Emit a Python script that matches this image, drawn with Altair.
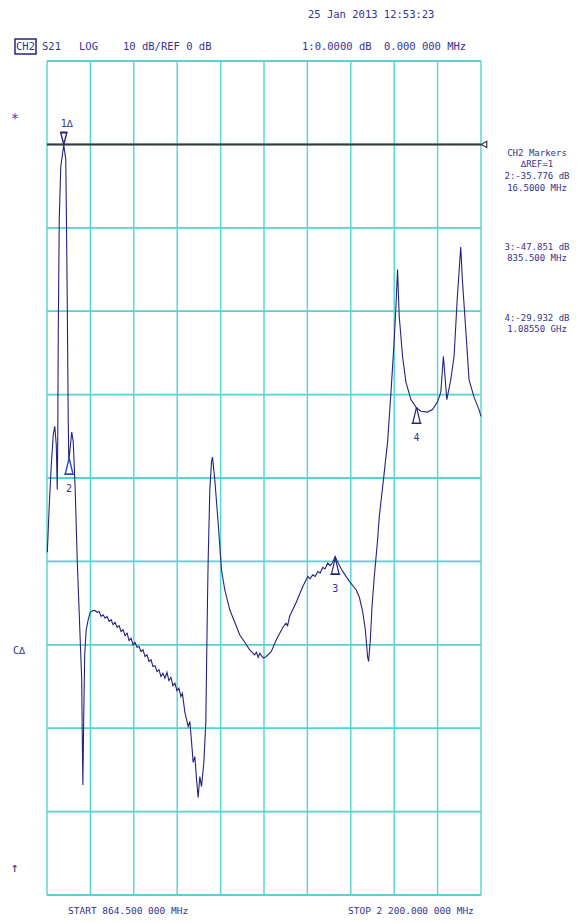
import altair as alt
import pandas as pd

# ---- trace: frequency in MHz, S21 in dB ----
freq_mhz = [
    865.4, 871.6, 877.7, 883.8, 888.4, 893.0, 896.1, 897.6, 899.2, 902.2,
    906.8, 909.9, 916.1, 922.2, 923.7, 926.8, 929.8, 931.7, 933.5, 940.6,
    945.2, 951.3, 957.5, 966.7, 971.3, 972.8, 974.9, 977.4, 980.5, 985.1,
    991.2, 997.3, 1006.5, 1012.7, 1018.8, 1025.0, 1031.1, 1037.2, 1043.4, 1049.5,
    1055.6, 1061.8, 1067.9, 1074.0, 1080.2, 1086.3, 1092.4, 1098.6, 1104.7, 1110.9,
    1117.0, 1123.1, 1129.3, 1135.4, 1141.5, 1147.7, 1153.8, 1159.9, 1166.1, 1172.2,
    1178.4, 1184.5, 1190.6, 1196.8, 1202.9, 1209.0, 1215.2, 1221.3, 1227.4, 1233.6,
    1239.7, 1245.9, 1252.0, 1258.1, 1264.3, 1270.4, 1276.5, 1281.1, 1288.8, 1298.9,
    1304.1, 1309.4, 1314.3, 1319.5, 1324.7, 1329.6, 1334.8, 1340.0, 1347.1, 1353.2,
    1355.4, 1358.4, 1360.3, 1365.5, 1370.7, 1373.8, 1380.8, 1391.0, 1401.4, 1411.5,
    1426.9, 1442.2, 1457.5, 1472.9, 1488.2, 1503.6, 1509.0, 1514.3, 1519.5, 1524.1,
    1531.0, 1539.5, 1554.8, 1570.1, 1590.4, 1600.0, 1605.0, 1610.9, 1631.5, 1651.7,
    1667.1, 1674.0, 1682.4, 1690.0, 1697.8, 1705.0, 1713.1, 1720.0, 1728.4, 1736.0,
    1743.8, 1751.2, 1759.1, 1774.5, 1795.0, 1815.6, 1825.7, 1835.8, 1844.1, 1851.2,
    1854.2, 1859.4, 1864.7, 1871.7, 1881.8, 1887.1, 1902.4, 1912.5, 1923.0, 1933.1,
    1938.3, 1943.2, 1948.4, 1958.5, 1969.0, 1984.3, 1999.7, 2015.0, 2035.3, 2050.6,
    2065.9, 2076.4, 2084.3, 2094.8, 2107.0, 2117.2, 2127.3, 2137.7, 2142.6, 2153.1,
    2163.2, 2178.5, 2193.9, 2200.0,
]
s21_db = [
    -48.9, -43.2, -38.4, -34.8, -33.8, -36.0, -41.4, -35.4, -22.2, -9.0,
    -2.7, -1.8, -0.1, -1.8, -6.6, -18.6, -33.0, -38.1, -37.3, -34.5,
    -35.6, -41.4, -49.8, -59.4, -64.2, -70.2, -76.8, -69.0, -61.2, -58.2,
    -57.0, -56.1, -55.9, -55.9, -56.1, -56.0, -56.6, -56.4, -56.8, -56.6,
    -57.2, -57.0, -57.6, -57.3, -57.9, -57.7, -58.4, -58.2, -58.9, -58.6,
    -59.5, -59.2, -60.0, -59.7, -60.3, -60.2, -60.8, -60.6, -61.4, -61.2,
    -62.0, -61.8, -62.6, -62.5, -63.2, -63.0, -63.8, -63.4, -64.0, -63.3,
    -64.3, -63.9, -64.9, -64.6, -65.5, -65.2, -66.2, -65.8, -68.1, -69.8,
    -69.2, -71.7, -74.1, -73.4, -76.2, -78.3, -75.8, -77.0, -74.1, -69.3,
    -63.0, -54.6, -50.1, -41.4, -38.1, -37.5, -40.2, -45.3, -51.0, -53.4,
    -55.8, -57.3, -58.8, -59.7, -60.6, -61.2, -60.9, -61.5, -61.0, -61.3,
    -61.6, -61.4, -60.8, -59.4, -57.9, -57.4, -57.7, -56.6, -54.9, -53.0,
    -51.8, -52.1, -51.6, -51.8, -51.2, -51.4, -50.7, -50.9, -50.2, -50.5,
    -50.1, -49.4, -50.1, -51.2, -52.4, -53.4, -54.3, -56.0, -58.2, -61.5,
    -62.0, -59.4, -55.4, -51.8, -47.4, -44.6, -39.3, -35.7, -29.7, -23.4,
    -19.4, -15.0, -20.6, -25.4, -28.5, -30.6, -31.5, -32.0, -32.1, -31.8,
    -30.9, -29.7, -25.4, -30.6, -28.2, -25.4, -18.2, -12.3, -16.2, -22.2,
    -28.2, -30.3, -31.8, -32.6,
]

# ---- grid / reference ----
grid_freq_mhz = [864.5, 998.05, 1131.6, 1265.15, 1398.7, 1532.25,
                 1665.8, 1799.35, 1932.9, 2066.45, 2200.0]
grid_db = [10, 0, -10, -20, -30, -40, -50, -60, -70, -80, -90]
ref_db = [0.0]

# ---- markers ----
marker_freq_mhz = [916.1, 932.6, 1751.6, 2001.6]
marker_db = [0.0, -37.6, -49.6, -31.5]
marker_names = ["1\u2206", "2", "3", "4"]

# ---- texts ----
header_date = "25 Jan 2013  12:53:23"
header_items = ["CH2", "S21", "LOG", "10 dB/REF 0 dB", "1:0.0000 dB", "0.000 000 MHz"]
readout_lines = ["CH2 Markers", "\u2206REF=1", "2:-35.776 dB", "16.5000 MHz",
                 "3:-47.851 dB", "835.500 MHz", "4:-29.932 dB", "1.08550 GHz"]
start_label = "START 864.500 000 MHz"
stop_label = "STOP 2 200.000 000 MHz"
side_symbols = ["*", "C\u2206", "\u2191"]

CYAN = "#55d2d2"
NAVY = "#24247c"
TEXT = "#34348a"
MONO = "DejaVu Sans Mono"

xs = alt.Scale(domain=[864.5, 2200.0], nice=False, zero=False)
ys = alt.Scale(domain=[-90, 10], nice=False, zero=False)

trace_df = pd.DataFrame({"f": freq_mhz, "db": s21_db, "i": list(range(len(freq_mhz)))})
mk_df = pd.DataFrame({"f": marker_freq_mhz, "db": marker_db, "name": marker_names})

X = alt.X("f:Q", scale=xs, axis=None)
Y = alt.Y("db:Q", scale=ys, axis=None)

vgrid = alt.Chart(pd.DataFrame({"f": grid_freq_mhz})).mark_rule(
    color=CYAN, strokeWidth=1.4).encode(x=X)
hgrid = alt.Chart(pd.DataFrame({"db": grid_db})).mark_rule(
    color=CYAN, strokeWidth=1.8).encode(y=Y)
ref_line = alt.Chart(pd.DataFrame({"db": ref_db})).mark_rule(
    color="#383838", strokeWidth=2).encode(y=Y)
ref_tri = alt.Chart(pd.DataFrame({"f": [2200.0], "db": ref_db})).mark_point(
    shape="triangle-left", filled=False, size=40, color="#383838",
    strokeWidth=1.2, xOffset=3, opacity=1).encode(x=X, y=Y)

trace = alt.Chart(trace_df).mark_line(color=NAVY, strokeWidth=1.1).encode(
    x=X, y=Y, order="i:Q")

DOWN = "M0,0L-0.5,-1.9L0.5,-1.9ZM-0.6,-2.0L0.6,-2.0"
UP = "M0,0L-0.45,1.9L0.45,1.9ZM-0.6,1.95L0.6,1.95"

m1 = alt.Chart(mk_df.iloc[:1]).mark_point(
    shape=DOWN, filled=False, size=150, color=NAVY, strokeWidth=1.4, opacity=1
).encode(x=X, y=Y)
m1_lab = alt.Chart(mk_df.iloc[:1]).mark_text(
    font=MONO, fontSize=10, color=TEXT, dy=-20, dx=3).encode(x=X, y=Y, text="name:N")
m2 = alt.Chart(mk_df.iloc[1:2]).mark_point(
    shape=UP, filled=False, size=280, color="#3048c0", strokeWidth=1.4, opacity=1
).encode(x=X, y=Y)
m34 = alt.Chart(mk_df.iloc[2:]).mark_point(
    shape=UP, filled=False, size=280, color=NAVY, strokeWidth=1.2, opacity=1
).encode(x=X, y=Y)
m_lab = alt.Chart(mk_df.iloc[1:]).mark_text(
    font=MONO, fontSize=10, color=TEXT, dy=31).encode(x=X, y=Y, text="name:N")


def label(txt, x, y, size, align="left", color=TEXT):
    return alt.Chart(pd.DataFrame({"t": [txt]})).mark_text(
        align=align, baseline="middle", fontSize=size, font=MONO, color=color
    ).encode(text="t:N", x=alt.value(x), y=alt.value(y))


box = alt.Chart(pd.DataFrame({"t": [0]})).mark_rect(
    fill="white", stroke=NAVY, strokeWidth=1.5).encode(
    x=alt.value(-32), x2=alt.value(-11), y=alt.value(-22), y2=alt.value(-7))

texts = [
    label(header_date, 261, -46, 10.5),
    label(header_items[0], -21.5, -14, 10.5, align="center"),
    label(header_items[1], -5, -14, 10.5),
    label(header_items[2], 32, -14, 10.5),
    label(header_items[3], 76, -14, 10.5),
    label(header_items[4], 255, -14, 10.5),
    label(header_items[5], 337, -14, 10.5),
    label(start_label, 21, 850, 9.5),
    label(stop_label, 301, 850, 9.5),
    label(side_symbols[0], -32, 58, 14, align="center", color="#3344bb"),
    label(side_symbols[1], -28, 590, 10, align="center"),
    label(side_symbols[2], -32, 807, 13, align="center"),
]
ry = [92, 103, 115, 127, 186, 197, 257, 268]
for line, yy in zip(readout_lines, ry):
    texts.append(label(line, 490, yy, 9, align="center"))

chart = alt.layer(
    vgrid, hgrid, ref_line, ref_tri, trace, m1, m1_lab, m2, m34, m_lab, box, *texts
).properties(
    width=434, height=834,
    autosize=alt.AutoSizeParams(type="none"),
    padding={"left": 39, "top": 53, "right": 89, "bottom": 20},
    background="white",
).configure_view(strokeWidth=0)

chart.save("out.html", embed_options={"renderer": "svg", "actions": False})
